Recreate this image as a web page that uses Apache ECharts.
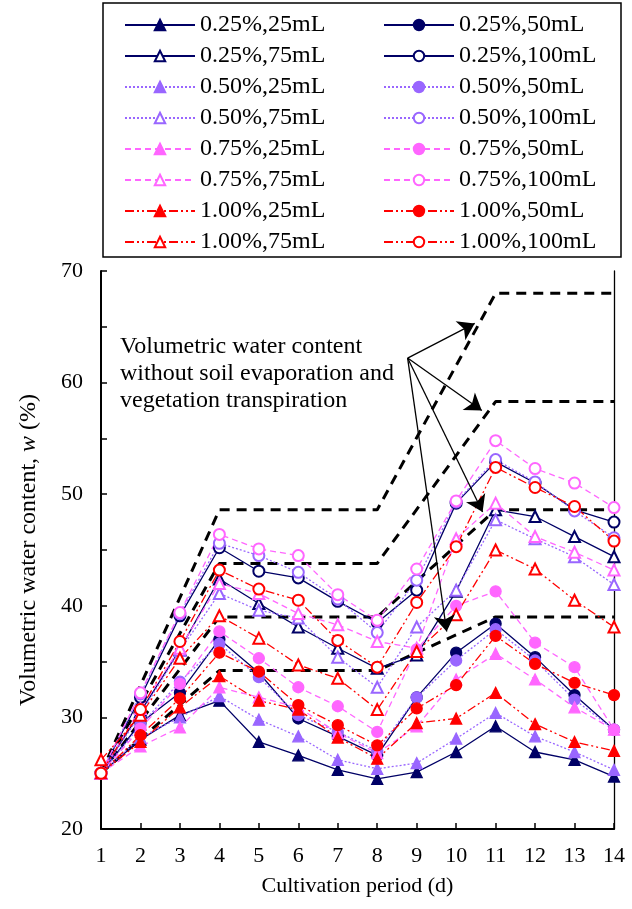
<!DOCTYPE html>
<html>
<head>
<meta charset="utf-8">
<script src="https://cdn.jsdelivr.net/npm/echarts@6/dist/echarts.min.js"></script>
<style>
html,body{margin:0;padding:0;background:#fff;}
#chart{width:632px;height:909px;}
</style>
</head>
<body>
<div id="chart"></div>
<script>
// ---- data ----
const days = [1,2,3,4,5,6,7,8,9,10,11,12,13,14];
const yTicks = [20,30,40,50,60,70];

const names = [
  '0.25%,25mL','0.25%,50mL','0.25%,75mL','0.25%,100mL',
  '0.50%,25mL','0.50%,50mL','0.50%,75mL','0.50%,100mL',
  '0.75%,25mL','0.75%,50mL','0.75%,75mL','0.75%,100mL',
  '1.00%,25mL','1.00%,50mL','1.00%,75mL','1.00%,100mL'
];

const c025_25  = [25.0,28.0,30.2,31.5,27.8,26.6,25.3,24.5,25.1,26.9,29.2,26.9,26.2,24.7];
const c025_50  = [25.0,29.5,32.2,37.0,34.0,29.9,28.3,26.6,31.8,35.8,38.4,35.4,32.0,28.9];
const c025_75  = [25.0,30.5,36.1,42.4,40.2,38.1,36.2,34.4,35.6,41.3,48.6,48.0,46.2,44.4];
const c025_100 = [25.0,31.8,39.1,45.2,43.1,42.5,40.4,38.5,41.4,49.2,52.9,51.0,48.6,47.5];

const c050_25  = [25.0,28.2,30.0,31.9,29.8,28.3,26.2,25.4,25.9,28.1,30.4,28.3,26.9,25.3];
const c050_50  = [25.0,29.3,33.2,36.6,33.6,30.2,28.7,27.0,31.8,35.1,37.9,35.1,31.6,28.9];
const c050_75  = [25.0,30.3,36.0,41.1,39.6,38.9,35.4,32.7,38.1,41.4,47.7,46.0,44.4,41.9];
const c050_100 = [25.0,32.1,39.3,45.6,44.5,43.0,40.6,37.6,42.3,49.3,53.1,51.1,48.5,46.1];

const c075_25  = [25.0,27.4,29.1,32.7,31.8,30.9,28.6,26.8,29.2,33.4,35.7,33.4,30.9,28.9];
const c075_50  = [25.0,29.0,33.0,37.7,35.3,32.7,31.0,28.7,36.1,40.0,41.3,36.7,34.5,28.9];
const c075_75  = [25.0,30.8,36.2,42.0,41.1,39.3,38.3,36.8,36.2,46.0,49.2,46.2,44.8,43.2];
const c075_100 = [25.0,32.2,39.4,46.4,45.1,44.5,41.0,38.7,43.3,49.4,54.8,52.3,51.0,48.8];

const c100_25  = [25.0,27.8,30.9,33.7,31.5,30.7,28.2,26.3,29.5,29.9,32.2,29.4,27.8,27.0];
const c100_50  = [25.0,28.4,31.7,35.8,34.1,31.1,29.3,27.5,30.8,32.9,37.3,34.8,33.1,32.0];
const c100_75  = [26.2,30.2,35.3,39.1,37.1,34.7,33.5,30.7,35.9,39.2,45.0,43.3,40.5,38.1];
const c100_100 = [25.0,30.7,36.8,43.2,41.5,40.5,36.9,34.5,40.3,45.3,52.4,50.6,48.9,45.8];

const values = [c025_25,c025_50,c025_75,c025_100,c050_25,c050_50,c050_75,c050_100,
                c075_25,c075_50,c075_75,c075_100,c100_25,c100_50,c100_75,c100_100];

// reference lines (no evaporation / transpiration): corner points [day, value]
const refDays = [1,4,8,11,14];
const ref1 = [25.0,48.6,48.6,68.0,68.0];
const ref2 = [25.0,43.8,43.8,58.3,58.3];
const ref3 = [25.0,39.0,39.0,48.6,48.6];
const ref4 = [25.0,34.2,34.2,39.0,39.0];

// annotation arrows in data coordinates
const arrowFrom = [8.77,62.2];
const arrowTo = [[10.47,65.3],[10.65,57.5],[10.67,48.4],[9.76,37.7]];

const annotation = ['Volumetric water content','without soil evaporation and','vegetation transpiration'];

// ---- styles ----
const FONT = "'Liberation Serif','Times New Roman',serif";
const groupColors = ['#000066','#9966FF','#FF66FF','#FF0000'];
const groupDash = ['solid',[2,2],[6,4],[9,3,2,3,2,3]];
const symbols = ['triangle','circle','emptyTriangle','emptyCircle'];

const series = [];
[ref1,ref2,ref3,ref4].forEach((r,i)=>{
  series.push({
    type:'line', name:'ref'+i, data: refDays.map((d,k)=>[d,r[k]]),
    showSymbol:false, symbol:'none', silent:true, z:1,
    lineStyle:{color:'#000',width:3,type:[10,7]}
  });
});
values.forEach((v,i)=>{
  const g = Math.floor(i/4), s = i%4;
  series.push({
    type:'line', name:names[i], data: days.map((d,k)=>[d,v[k]]),
    symbol: symbols[s], symbolSize: 11, z: 3,
    itemStyle:{color:groupColors[g], borderColor:groupColors[g], borderWidth:1.3},
    lineStyle:{color:groupColors[g], width:1.3, type:groupDash[g]}
  });
});
series.push({
  type:'lines', coordinateSystem:'cartesian2d', z:5, silent:true,
  symbol:['none','arrow'], symbolSize:[11,16],
  lineStyle:{color:'#000', width:1.3, opacity:1},
  data: arrowTo.map(t=>({coords:[arrowFrom,t]}))
});

const col1 = names.filter((n,i)=>i%2===0);
const col2 = names.filter((n,i)=>i%2===1);
const legendBase = {
  orient:'vertical', top:13, itemWidth:70, itemHeight:13, itemGap:7, padding:0,
  selectedMode:false,
  textStyle:{fontFamily:FONT, fontSize:24, color:'#000', lineHeight:24}
};

const chart = echarts.init(document.getElementById('chart'), null, {renderer:'canvas'});
chart.setOption({
  animation:false,
  backgroundColor:'#fff',
  grid:{left:101, right:18, top:271, bottom:80},
  legend:[
    Object.assign({left:124, data:col1}, legendBase),
    Object.assign({left:383, data:col2}, legendBase)
  ],
  xAxis:{
    type:'value', min:1, max:14, interval:1,
    name:'Cultivation period (d)', nameLocation:'middle', nameGap:46,
    nameTextStyle:{fontFamily:FONT, fontSize:22, color:'#000'},
    axisLine:{lineStyle:{color:'#000', width:2}},
    axisTick:{inside:true, length:6, lineStyle:{color:'#000', width:1.5}},
    axisLabel:{fontFamily:FONT, fontSize:22, color:'#000', margin:16},
    splitLine:{show:false}
  },
  yAxis:[{
    type:'value', min:20, max:70, interval:5,
    name:'{a|Volumetric water content, }{i|w}{a| (%)}', nameLocation:'middle', nameGap:60,
    nameTextStyle:{fontFamily:FONT, fontSize:24, color:'#000',
      rich:{a:{fontFamily:FONT, fontSize:24, color:'#000'}, i:{fontFamily:FONT, fontSize:24, fontStyle:'italic', color:'#000'}}},
    axisLine:{show:true, lineStyle:{color:'#000', width:2}},
    axisTick:{inside:true, length:6, lineStyle:{color:'#000', width:1.5}},
    axisLabel:{fontFamily:FONT, fontSize:22, color:'#000', margin:18,
      formatter:(v)=> yTicks.indexOf(v)>=0 ? String(v) : ''},
    splitLine:{show:false}
  },{
    type:'value', min:20, max:70, position:'right',
    axisLine:{show:true, lineStyle:{color:'#000', width:1.3}},
    axisTick:{show:false}, axisLabel:{show:false}, splitLine:{show:false}
  }],
  graphic:[
    {type:'rect', shape:{x:103, y:3, width:518, height:254}, style:{fill:'none', stroke:'#000', lineWidth:1.5}, silent:true},
    {type:'text', left:120, top:333, style:{text:annotation.join('\n'), font:'24px '+FONT, fill:'#000', lineHeight:27}, silent:true}
  ],
  series: series
});
</script>
</body>
</html>
